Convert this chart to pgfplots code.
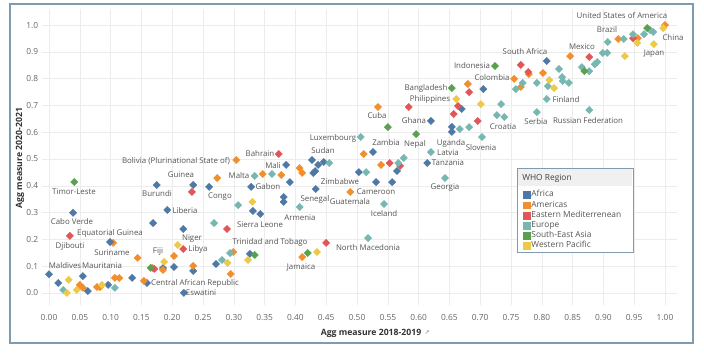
\documentclass[border=0pt]{standalone}
\usepackage{fontspec}
\setmainfont{Open Sans}
\newfontfamily\djv{DejaVu Sans}
\usepackage{pgfplots}
\pgfplotsset{compat=1.18}
\definecolor{afr}{HTML}{4E79A7}
\definecolor{ame}{HTML}{F28E2B}
\definecolor{emr}{HTML}{E15759}
\definecolor{eur}{HTML}{76B7B2}
\definecolor{sea}{HTML}{59A14F}
\definecolor{wpr}{HTML}{EDC948}
\definecolor{lblc}{HTML}{555555}
\definecolor{tickc}{HTML}{666666}
\definecolor{frm}{HTML}{7F9BB0}
\definecolor{gridc}{HTML}{ECECEC}
\newcommand{\lab}[3]{\node[lbl] at (#1,352-#2) {#3};}
\pgfplotsset{
  pt/.style={only marks, mark=square*, mark size=2.55bp, mark options={rotate=45, draw=none, fill=#1}, color=#1,
    legend image code/.code={\fill[#1] (0bp,-3.4bp) rectangle (6.8bp,3.4bp);}},
}
\begin{document}
\begin{tikzpicture}[x=1bp,y=1bp, lbl/.style={font=\fontsize{7.9}{8.5}\selectfont, text=lblc, inner sep=0pt, anchor=center}]
\useasboundingbox (0,0) rectangle (704,352);
\fill[white] (0,0) rectangle (704,352);
\begin{axis}[at={(41.6bp,47bp)}, anchor=south west, scale only axis,
  width=635.7bp, height=296bp,
  xmin=-0.012, xmax=1.02, ymin=-0.045, ymax=1.06,
  axis line style={draw=none}, tick style={draw=none},
  grid=major, grid style={gridc, line width=0.5bp},
  xtick={0,0.05,0.1,0.15,0.2,0.25,0.3,0.35,0.4,0.45,0.5,0.55,0.6,0.65,0.7,0.75,0.8,0.85,0.9,0.95,1.0},
  ytick={0,0.1,0.2,0.3,0.4,0.5,0.6,0.7,0.8,0.9,1.0},
  /pgf/number format/assume math mode=true,
  xticklabel style={/pgf/number format/fixed, /pgf/number format/fixed zerofill, /pgf/number format/precision=2, font=\fontsize{8.4}{9}\selectfont, text=tickc, yshift=-5.8bp},
  yticklabel style={/pgf/number format/fixed, /pgf/number format/fixed zerofill, /pgf/number format/precision=1, font=\fontsize{8.4}{9}\selectfont, text=tickc},
  clip=false,
  legend style={at={(0.752,0.396)}, anchor=north west, draw=none, fill=none,
    font=\fontsize{8.4}{9}\selectfont, text=lblc,
    nodes={text height=5.6bp, text depth=1.6bp, inner sep=1.4bp}, row sep=0.2bp},
  legend cell align=left,
]
% legend background
\fill[white] (axis cs:0.760,0.153) rectangle (axis cs:0.948,0.466);
\fill[black!6] (axis cs:0.7615,0.398) rectangle (axis cs:0.9465,0.463);
\draw[frm, line width=0.8bp] (axis cs:0.760,0.153) rectangle (axis cs:0.948,0.466);
\node[anchor=west, font=\fontsize{8.4}{9}\selectfont, text=black!75, inner sep=0pt] at (axis cs:0.768,0.429) {WHO Region};
\addplot[pt=ame, forget plot] coordinates {(0.104,0.187)};
\addplot[pt=afr] coordinates {
(0.0,0.07) (0.015,0.037) (0.039,0.299) (0.055,0.063) (0.063,0.007) (0.096,0.03) (0.099,0.19) (0.135,0.056) (0.159,0.037) (0.169,0.261) (0.175,0.403) (0.185,0.093) (0.192,0.31) (0.203,0.097) (0.218,0.239) (0.219,0.0) (0.234,0.403) (0.234,0.082) (0.26,0.396) (0.271,0.108) (0.326,0.146) (0.328,0.396) (0.331,0.306) (0.343,0.295) (0.381,0.358) (0.381,0.34) (0.385,0.478) (0.391,0.414) (0.427,0.496) (0.437,0.478) (0.446,0.489) (0.432,0.455) (0.429,0.448) (0.433,0.388) (0.503,0.451) (0.526,0.526) (0.531,0.414) (0.557,0.414) (0.565,0.455) (0.614,0.485) (0.62,0.642) (0.654,0.62) (0.654,0.601) (0.67,0.687) (0.705,0.761) (0.808,0.866)};
\addlegendentry{Africa}
\addplot[pt=ame] coordinates {
(0.05,0.03) (0.055,0.019) (0.078,0.022) (0.083,0.022) (0.107,0.056) (0.114,0.056) (0.144,0.131) (0.154,0.045) (0.168,0.093) (0.185,0.086) (0.203,0.138) (0.234,0.101) (0.273,0.429) (0.295,0.071) (0.299,0.153) (0.304,0.496) (0.347,0.444) (0.377,0.44) (0.407,0.466) (0.411,0.448) (0.411,0.134) (0.489,0.377) (0.511,0.519) (0.534,0.694) (0.539,0.478) (0.68,0.78) (0.755,0.799) (0.766,0.769) (0.802,0.821) (0.846,0.884) (0.924,0.948) (0.956,0.951) (1.0,1.0) (0.779,0.817)};
\addlegendentry{Americas}
\addplot[pt=emr] coordinates {
(0.034,0.213) (0.171,0.09) (0.232,0.377) (0.218,0.164) (0.289,0.239) (0.373,0.519) (0.45,0.187) (0.553,0.485) (0.57,0.474) (0.584,0.694) (0.657,0.668) (0.664,0.698) (0.682,0.75) (0.696,0.642) (0.766,0.851) (0.778,0.825) (0.877,0.881) (0.948,0.951)};
\addlegendentry{Eastern Mediterrenean}
\addplot[pt=eur] coordinates {
(0.023,0.011) (0.107,0.019) (0.268,0.261) (0.281,0.123) (0.294,0.149) (0.307,0.328) (0.334,0.437) (0.362,0.444) (0.407,0.321) (0.455,0.485) (0.506,0.582) (0.515,0.451) (0.544,0.332) (0.518,0.205) (0.567,0.485) (0.576,0.504) (0.62,0.526) (0.643,0.429) (0.667,0.612) (0.682,0.619) (0.703,0.582) (0.727,0.664) (0.739,0.657) (0.734,0.705) (0.758,0.761) (0.769,0.784) (0.792,0.784) (0.81,0.772) (0.808,0.724) (0.792,0.675) (0.877,0.683) (0.828,0.836) (0.833,0.806) (0.834,0.791) (0.844,0.784) (0.865,0.843) (0.877,0.828) (0.886,0.854) (0.89,0.862) (0.899,0.896) (0.906,0.896) (0.907,0.937) (0.933,0.948) (0.948,0.966) (0.966,0.966) (0.976,0.981) (0.981,0.974)};
\addlegendentry{Europe}
\addplot[pt=sea] coordinates {
(0.041,0.414) (0.165,0.094) (0.334,0.142) (0.42,0.149) (0.55,0.619) (0.596,0.593) (0.654,0.765) (0.724,0.847) (0.869,0.828) (0.971,0.989)};
\addlegendentry{South-East Asia}
\addplot[pt=wpr] coordinates {
(0.029,0.0) (0.032,0.049) (0.045,0.011) (0.086,0.03) (0.187,0.116) (0.209,0.179) (0.29,0.112) (0.323,0.123) (0.33,0.34) (0.435,0.153) (0.661,0.724) (0.701,0.705) (0.812,0.795) (0.82,0.765) (0.935,0.884) (0.982,0.929) (0.955,0.933) (0.997,0.989)};
\addlegendentry{Western Pacific}
\end{axis}
% frame
\draw[frm, line width=1.3bp] (10,9) rectangle (693,348);
% axis titles
\node[font=\fontsize{8.7}{9}\selectfont\bfseries, text=black!80, inner sep=0pt] at (371,352-333) {Agg measure 2018-2019};
\node[font=\djv\fontsize{6}{7}\selectfont, text=black!50, inner sep=0pt] at (427,352-333) {↗};
\node[font=\fontsize{8.7}{9}\selectfont\bfseries, text=black!80, inner sep=0pt, rotate=90] at (20,352-158) {Agg measure 2020-2021};
% data labels
\lab{622}{16}{United States of America}
\lab{607}{30}{Brazil}
\lab{673}{38}{China}
\lab{654}{54}{Japan}
\lab{582}{47}{Mexico}
\lab{525}{52}{South Africa}
\lab{472}{66}{Indonesia}
\lab{492}{78}{Colombia}
\lab{426}{88}{Bangladesh}
\lab{430}{99}{Philippines}
\lab{377}{116}{Cuba}
\lab{414}{121}{Ghana}
\lab{566}{100}{Finland}
\lab{536}{122}{Serbia}
\lab{588}{121}{Russian Federation}
\lab{503}{127}{Croatia}
\lab{481}{148}{Slovenia}
\lab{333}{138}{Luxembourg}
\lab{415}{144}{Nepal}
\lab{386}{143}{Zambia}
\lab{451}{143}{Uganda}
\lab{448}{153}{Latvia}
\lab{448}{163}{Tanzania}
\lab{323}{151}{Sudan}
\lab{260}{154}{Bahrain}
\lab{273}{166}{Mali}
\lab{239}{176}{Malta}
\lab{268}{187}{Gabon}
\lab{176}{161}{Bolivia (Plurinational State of)}
\lab{181}{175}{Guinea}
\lab{157}{194}{Burundi}
\lab{220}{197}{Congo}
\lab{74}{192}{Timor-Leste}
\lab{185}{211}{Liberia}
\lab{72}{222}{Cabo Verde}
\lab{110}{233}{Equatorial Guinea}
\lab{70}{246}{Djibouti}
\lab{112}{253}{Suriname}
\lab{192}{239}{Niger}
\lab{198}{249}{Libya}
\lab{158}{252}{Fiji}
\lab{65}{266}{Maldives}
\lab{102}{266}{Mauritania}
\lab{195}{283}{Central African Republic}
\lab{201}{293}{Eswatini}
\lab{260}{225}{Sierra Leone}
\lab{300}{218}{Armenia}
\lab{315}{199}{Senegal}
\lab{350}{202}{Guatemala}
\lab{340}{182}{Zimbabwe}
\lab{376}{192}{Cameroon}
\lab{384}{214}{Iceland}
\lab{445}{188}{Georgia}
\lab{270}{242}{Trinidad and Tobago}
\lab{368}{248}{North Macedonia}
\lab{301}{267}{Jamaica}
\end{tikzpicture}
\end{document}
